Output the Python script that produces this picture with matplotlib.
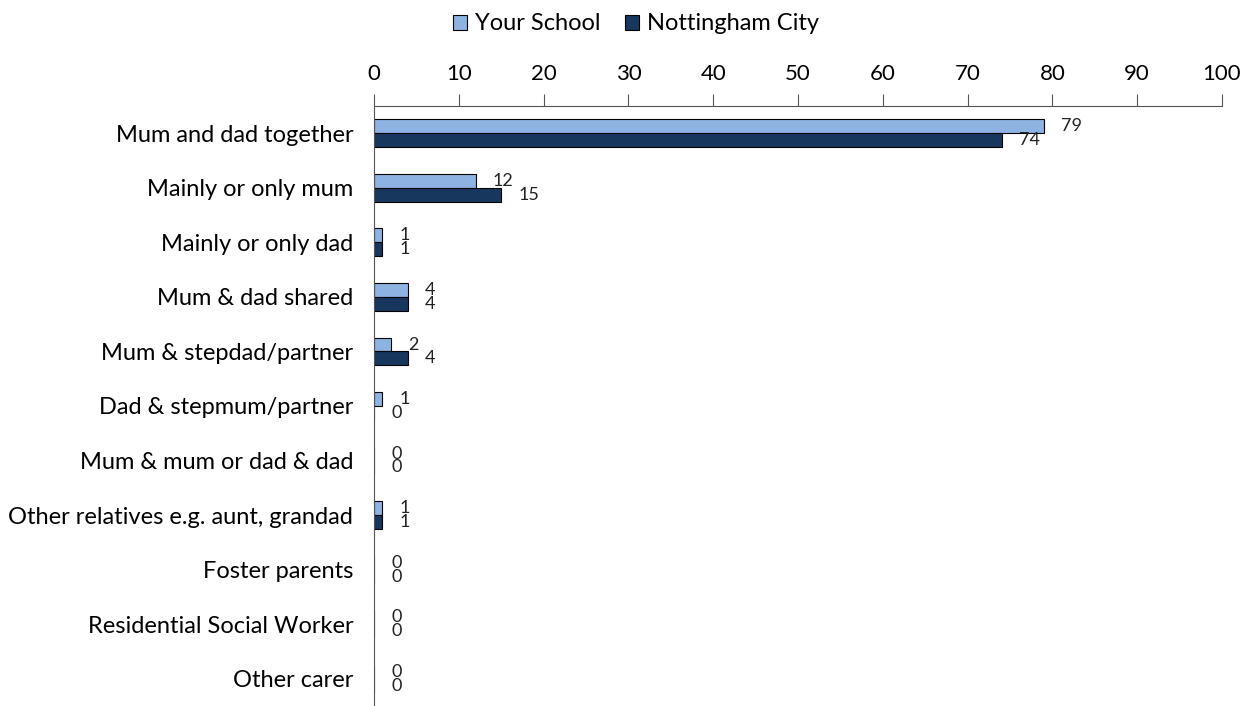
import matplotlib
matplotlib.use("Agg")
import matplotlib.pyplot as plt
from matplotlib.patches import Patch
from matplotlib.transforms import offset_copy
import numpy as np

categories = ["Mum and dad together", "Mainly or only mum", "Mainly or only dad",
              "Mum & dad shared", "Mum & stepdad/partner", "Dad & stepmum/partner",
              "Mum & mum or dad & dad", "Other relatives e.g. aunt, grandad",
              "Foster parents", "Residential Social Worker", "Other carer"]
your_school = [79, 12, 1, 4, 2, 1, 0, 1, 0, 0, 0]
nottingham = [74, 15, 1, 4, 4, 0, 0, 1, 0, 0, 0]
xticks = [0, 10, 20, 30, 40, 50, 60, 70, 80, 90, 100]

light = "#8DB3E2"
dark = "#17375E"

plt.rcParams['font.family'] = ['Lato', 'DejaVu Sans']

fig = plt.figure(figsize=(12.54, 7.06), dpi=100)
ax = fig.add_axes([374/1254, 0.0, (1222-374)/1254, 1 - 106/706])

n = len(categories)
y = np.arange(n)
h = 0.255
ax.barh(y - h/2, your_school, height=h, color=light, edgecolor="black", linewidth=0.8)
ax.barh(y + h/2, nottingham, height=h, color=dark, edgecolor="black", linewidth=0.8)

for yi, v in zip(y, your_school):
    t = offset_copy(ax.transData, fig=fig, x=17, y=0, units='dots')
    ax.text(v, yi - h/2, str(v), transform=t, ha='left', va='center', fontsize=13, color="#222222")
for yi, v in zip(y, nottingham):
    t = offset_copy(ax.transData, fig=fig, x=17, y=0, units='dots')
    ax.text(v, yi + h/2, str(v), transform=t, ha='left', va='center', fontsize=13, color="#222222")

ax.set_xlim(0, 100)
ax.set_ylim(n - 0.5, -0.5)
ax.set_xticks(xticks)
ax.xaxis.tick_top()
ax.tick_params(axis='x', direction='out', length=9, width=0.8, color="#555555",
               labelsize=16, pad=7)
ax.set_yticks(y)
ax.set_yticklabels(categories, fontsize=17)
ax.tick_params(axis='y', length=0, pad=15)
for s in ['right', 'bottom']:
    ax.spines[s].set_visible(False)
ax.spines['top'].set_color("#555555")
ax.spines['left'].set_color("#555555")
ax.spines['top'].set_linewidth(0.8)
ax.spines['left'].set_linewidth(0.8)

handles = [Patch(facecolor=light, edgecolor="black", linewidth=0.8, label="Your School"),
           Patch(facecolor=dark, edgecolor="black", linewidth=0.8, label="Nottingham City")]
fig.legend(handles=handles, loc='center', bbox_to_anchor=(636/1254, 1 - 24/706), ncol=2,
           frameon=False, fontsize=17, handlelength=0.6, handleheight=0.6,
           handletextpad=0.35, columnspacing=1.0)

fig.savefig("out.png", dpi=100)
